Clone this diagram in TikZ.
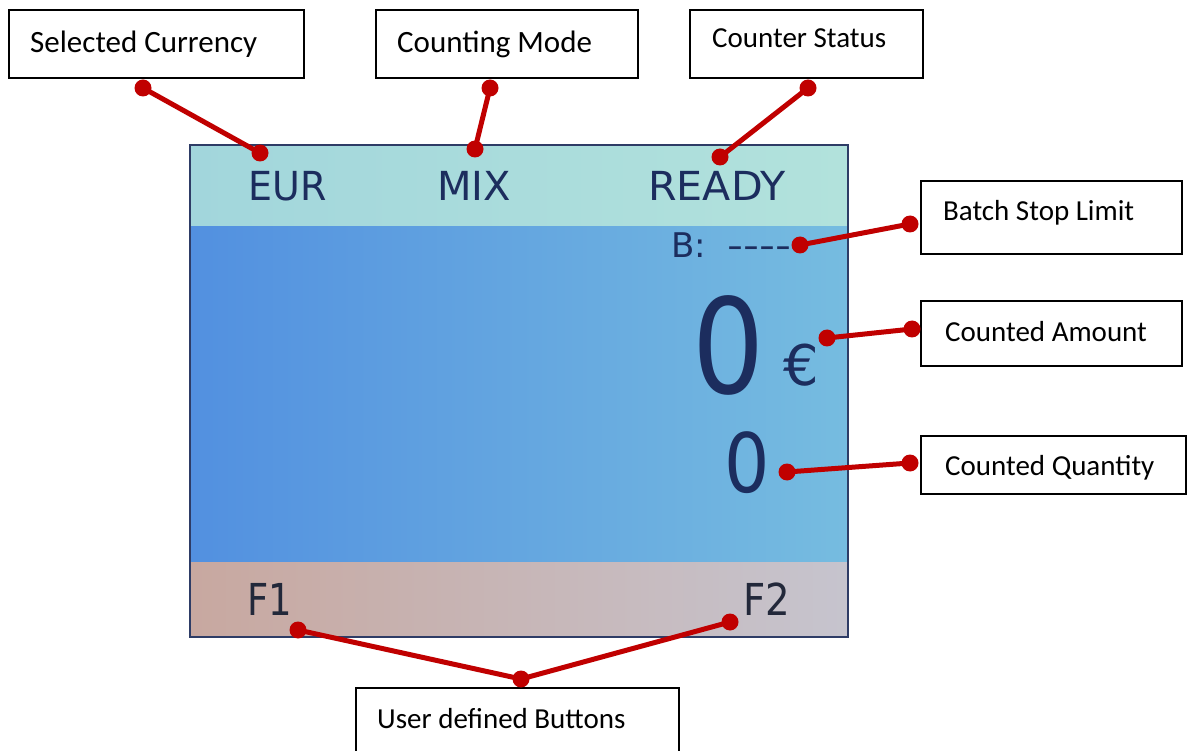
\documentclass[tikz,border=0pt]{standalone}
\usepackage{fontspec}
\usepackage{graphicx}
\setmainfont{Carlito}
\newfontfamily\lcd{DejaVu Sans}
\definecolor{lcdtxt}{HTML}{1C2D5E}
\definecolor{ftxt}{HTML}{22283A}
\definecolor{dotred}{HTML}{C00000}
\definecolor{topL}{HTML}{A2D6DC}
\definecolor{topR}{HTML}{B2E2DC}
\definecolor{midL}{HTML}{5290E0}
\definecolor{midR}{HTML}{76BCE0}
\definecolor{botL}{HTML}{C8A8A0}
\definecolor{botR}{HTML}{C6C4CE}
\definecolor{frame}{HTML}{2E3C66}
\tikzset{
  box/.style={draw=black, line width=1.6pt, fill=white, rectangle, inner sep=0pt},
  lbl/.style={anchor=base west, inner sep=0pt, font=\fontsize{29}{34}\selectfont},
  lblbig/.style={anchor=base west, inner sep=0pt, font=\fontsize{31}{36}\selectfont},
  lcdt/.style={inner sep=0pt, text=lcdtxt},
  dot/.style={circle, fill=dotred, minimum size=17pt, inner sep=0pt},
  conn/.style={draw=dotred, line width=5pt}
}
\begin{document}
\begin{tikzpicture}[x=1pt,y=-1pt]
\useasboundingbox (0,0) rectangle (1192,751);
\fill[white] (0,0) rectangle (1192,751);
% screen
\shade[left color=topL, right color=topR] (190,145) rectangle (848,227);
\shade[left color=midL, right color=midR] (190,227) rectangle (848,562);
\shade[left color=botL, right color=botR] (190,562) rectangle (848,637);
\draw[frame, line width=1.5pt] (190,145) rectangle (848,637);
% screen texts
\node[lcdt, anchor=base, font={\lcd\fontsize{40}{44}\selectfont}] (eur) at (288,201) {\scalebox{0.95}[1]{EUR}};
\node[lcdt, anchor=base, font={\lcd\fontsize{40}{44}\selectfont}] (mix) at (474,201) {MIX};
\node[lcdt, anchor=base, font={\lcd\fontsize{40}{44}\selectfont}] (ready) at (717,201) {\scalebox{1.03}[1]{READY}};
\node[lcdt, anchor=base west, font={\lcd\fontsize{34}{38}\selectfont}] (bl) at (671,258) {B:\hspace{22pt}\scalebox{1.3}[1]{----}};
\node[lcdt, anchor=base, font={\lcd\fontsize{132}{140}\selectfont}] (amt) at (729,393) {\scalebox{0.86}[1]{0}};
\node[lcdt, anchor=base, font={\lcd\fontsize{56}{60}\selectfont}] (eu) at (801,385) {€};
\node[lcdt, anchor=base, font={\lcd\fontsize{82}{90}\selectfont}] (qty) at (747,492) {\scalebox{0.87}[1]{0}};
\node[inner sep=0pt, text=ftxt, anchor=base, font={\lcd\fontsize{44}{48}\selectfont}] (f1) at (270,615) {\scalebox{0.84}[1]{F1}};
\node[inner sep=0pt, text=ftxt, anchor=base, font={\lcd\fontsize{44}{48}\selectfont}] (f2) at (767,615) {\scalebox{0.88}[1]{F2}};
% boxes
\node[box, minimum width=295pt, minimum height=68pt] (bSC) at (156.5,44) {};
\node[lblbig] (tSC) at (30,53) {Selected Currency};
\node[box, minimum width=262pt, minimum height=68pt] (bCM) at (507,44) {};
\node[lblbig] (tCM) at (397,53) {Counting Mode};
\node[box, minimum width=233pt, minimum height=68pt] (bCS) at (806.5,44) {};
\node[lbl] (tCS) at (712,48) {Counter Status};
\node[box, minimum width=261pt, minimum height=73pt] (bBL) at (1051.5,217.5) {};
\node[lbl] (tBL) at (943,221) {Batch Stop Limit};
\node[box, minimum width=261pt, minimum height=65pt] (bCA) at (1051.5,333.5) {};
\node[lbl] (tCA) at (945,342) {Counted Amount};
\node[box, minimum width=265pt, minimum height=58pt] (bCQ) at (1053.5,465) {};
\node[lbl] (tCQ) at (945,475) {Counted Quantity};
\node[box, minimum width=323pt, minimum height=66pt] (bUB) at (517.5,721) {};
\node[lbl] (tUB) at (377,728) {User defined Buttons};
% dots
\node[dot] (a1) at (143,88) {};
\node[dot] (a2) at (260,153) {};
\node[dot] (b1) at (490,88) {};
\node[dot] (b2) at (475,149) {};
\node[dot] (c1) at (808,88) {};
\node[dot] (c2) at (720,157) {};
\node[dot] (d1) at (910,224) {};
\node[dot] (d2) at (800,245) {};
\node[dot] (e1) at (912,329) {};
\node[dot] (e2) at (827,338) {};
\node[dot] (g1) at (910,463) {};
\node[dot] (g2) at (787,472) {};
\node[dot] (h0) at (521,679) {};
\node[dot] (h1) at (298,630) {};
\node[dot] (h2) at (730,622) {};
% connectors
\draw[conn] (a1.center) -- (a2.center);
\draw[conn] (b1.center) -- (b2.center);
\draw[conn] (c1.center) -- (c2.center);
\draw[conn] (d1.center) -- (d2.center);
\draw[conn] (e1.center) -- (e2.center);
\draw[conn] (g1.center) -- (g2.center);
\draw[conn] (h1.center) -- (h0.center) -- (h2.center);
\end{tikzpicture}
\end{document}
